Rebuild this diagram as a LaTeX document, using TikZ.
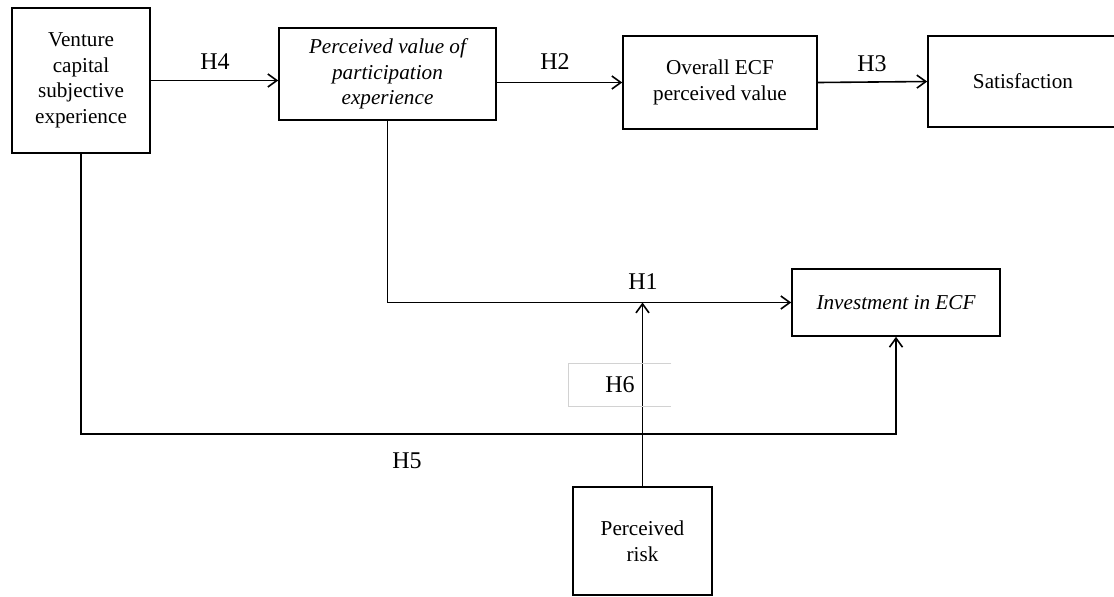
\documentclass[tikz,border=0pt]{standalone}
\usepackage{fontspec}
\setmainfont{Liberation Serif}
\usepackage{tikz}
\usetikzlibrary{arrows.meta}

\begin{document}
\begin{tikzpicture}[x=0.5pt, y=-0.5pt,
        every node/.style={font=\fontsize{12}{14}\selectfont},
        box/.style={draw, line width=0.8pt, inner sep=0pt, align=center,
                    font=\fontsize{10.6}{12.75}\selectfont},
        arr/.style={line width=0.8pt, -{Straight Barb[length=4.5pt, width=6.5pt]}},
        link/.style={line width=0.8pt}]
      % Canvas in pixel units of the reference (origin top left);
      % node sizes are in pt, i.e. half the pixel size
      \useasboundingbox (0,0) rectangle (1114,596);

      % Constructs
      \node[box, minimum width=69pt, minimum height=72.5pt] (vc) at (81,80.5)
        {Venture\\capital\\subjective\\experience};
      \node[box, minimum width=108.5pt, minimum height=46pt] (pv) at (387.5,74)
        {\itshape Perceived value of\\\itshape participation\\\itshape experience};
      \node[box, minimum width=97pt, minimum height=46.5pt] (ecf) at (720,82.5)
        {Overall ECF\\perceived value};
      \node[box, minimum width=95pt, minimum height=45.5pt] (sat) at (1023,81.5)
        {Satisfaction};
      \node[box, minimum width=104pt, minimum height=33.5pt] (inv) at (896,302.5)
        {\itshape Investment in ECF};
      \node[box, minimum width=69.5pt, minimum height=54pt] (risk) at (642.5,541)
        {Perceived\\risk};

      % Direct paths
      \draw[arr] (vc.east) -- (vc.east -| pv.west);
      \draw[arr] (ecf.west -| pv.east) -- (ecf.west);
      \draw[arr] (ecf.east) -- (sat.west);
      \draw[arr] (pv.south) |- (inv.west);

      % H5 runs underneath
      \coordinate (low) at (0,434);
      \draw[arr] (vc.south) |- (low -| inv.south) -- (inv.south);

      % Moderation by risk
      \draw[arr] (risk.north) -- (risk.north |- inv.west);

      % Hypothesis labels
      \foreach \name/\xpos/\ypos in {H4/215/62, H2/555/62, H3/872/64,
                                     H1/643/282, H5/407/461} {
        \node (\name) at (\xpos,\ypos) {\name};
      }
      \node[minimum width=51pt, minimum height=21pt, inner sep=0pt] (H6)
        at (620,385) {H6};
      \draw[gray!35, line width=0.4pt] (H6.north east) -- (H6.north west)
        -- (H6.south west) -- (H6.south east);

    \end{tikzpicture}
\end{document}
